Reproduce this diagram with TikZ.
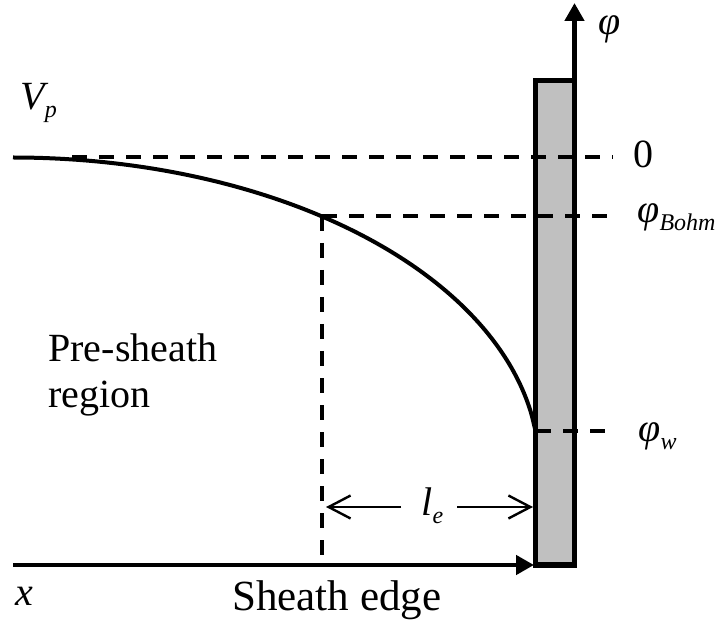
\documentclass[tikz,border=0pt]{standalone}
\usepackage{fontspec}
\setmainfont{Liberation Serif}
\usetikzlibrary{arrows.meta}
\newcommand\lsub[1]{\raisebox{-4pt}{\fontsize{12}{13}\selectfont\itshape #1}}
\definecolor{wallgray}{RGB}{192,192,192}
\begin{document}
\begin{tikzpicture}[x=0.5pt,y=-0.5pt,
  lbl/.style={inner sep=0pt,anchor=base west,font=\fontsize{20}{23}\selectfont},
  dashline/.style={line width=2pt,dash pattern=on 7.5pt off 6pt},
  axis/.style={line width=2.3pt,-{Triangle[length=9pt,width=9.5pt]}},
  dim/.style={line width=1.2pt,-{Straight Barb[length=11pt,width=11.5pt,line width=1.2pt]}},
  curve/.style={line width=2pt}]
\useasboundingbox (0,0) rectangle (722,625);
% wall
\draw[line width=2.6pt,fill=wallgray] (535.5,80.5) rectangle (574.5,565);
\coordinate (walltop) at (574.5,80.5);
\coordinate (phitip) at (574.5,3);
\draw[axis] (walltop) -- (phitip);
% x axis
\coordinate (xstart) at (13,565);
\coordinate (xtip) at (534,565);
\draw[axis] (xstart) -- (xtip);
% dashed levels
\coordinate (z0) at (72,157.5);
\coordinate (z1) at (613,157.5);
\coordinate (b0) at (322,216);
\coordinate (b1) at (613,216);
\coordinate (bd) at (322,563);
\coordinate (w0) at (536,431);
\coordinate (w1) at (609,431);
\draw[dashline] (z0) -- (z1);
\draw[dashline] (b0) -- (b1);
\draw[dashline] (b0) -- (bd);
\draw[dashline] (w0) -- (w1);
% potential curve (elliptic arc)
\draw[curve] plot[domain=0:522.5,samples=120,smooth] ({13+\x},{157.5+309*(1-sqrt(1-(\x/526)*(\x/526)))});
% l_e dimension
\coordinate (la) at (401,507);
\coordinate (lb) at (326,507);
\coordinate (ra) at (457,507);
\coordinate (rb) at (533,507);
\draw[dim] (la) -- (lb);
\draw[dim] (ra) -- (rb);
% labels
\node[lbl] (vp) at (20,110) {\itshape V\lsub{p}};
\node[lbl] (phi) at (598,35) {\itshape φ};
\node[lbl] (zero) at (633,168) {0};
\node[lbl] (bohm) at (637,223) {\itshape φ\lsub{Bohm}};
\node[lbl] (phiw) at (638,441) {\itshape φ\lsub{w}};
\node[lbl] (le) at (421,515) {\itshape l\lsub{e}};
\node[lbl,align=left] (pre) at (48,408) {Pre-sheath\\region};
\node[lbl] (xl) at (15,605) {\itshape x};
\node[lbl,font=\fontsize{21.5}{24}\selectfont] (sh) at (232,610) {Sheath edge};
\end{tikzpicture}
\end{document}
